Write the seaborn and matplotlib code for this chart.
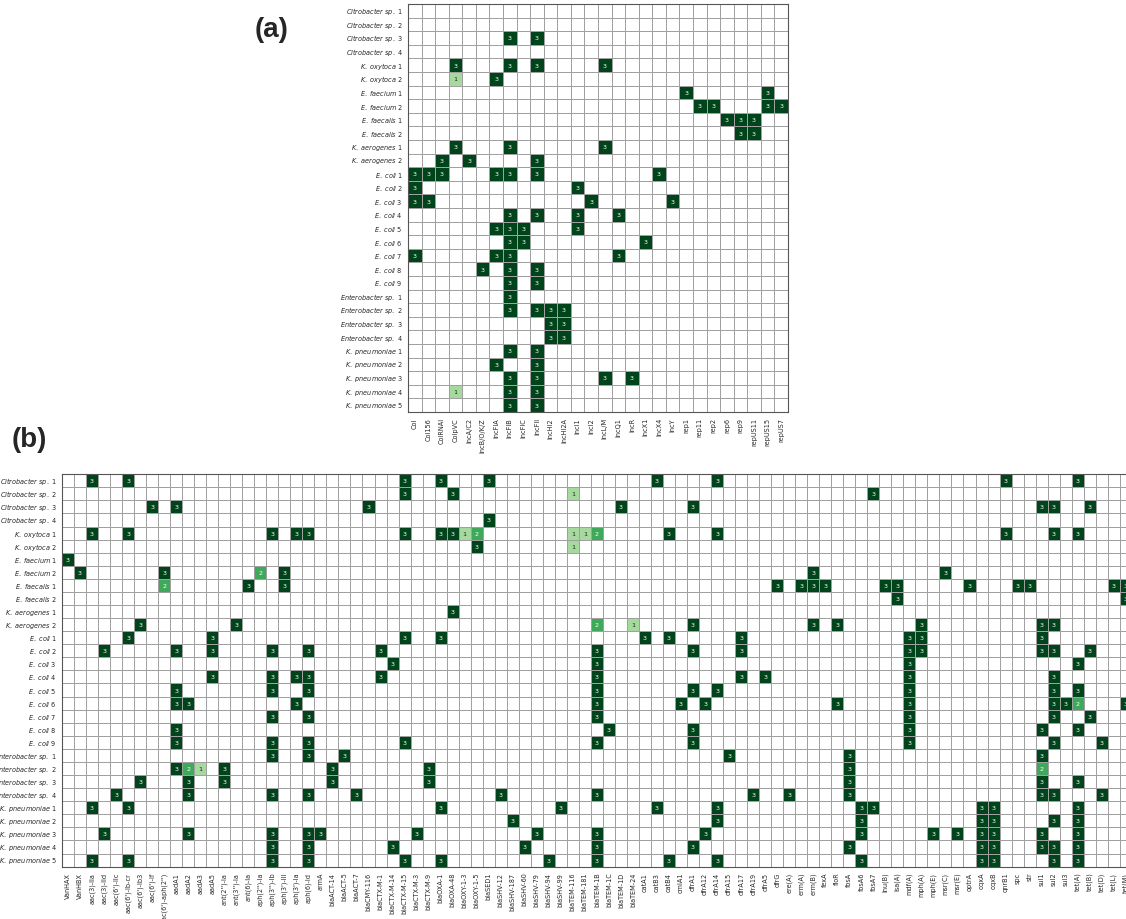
import numpy as np
import pandas as pd
import matplotlib
matplotlib.use("Agg")
import matplotlib.pyplot as plt
from matplotlib.colors import ListedColormap
import seaborn as sns

# ---------------- data ----------------
isolates = [
    "Citrobacter sp. 1", "Citrobacter sp. 2", "Citrobacter sp. 3", "Citrobacter sp. 4",
    "K. oxytoca 1", "K. oxytoca 2", "E. faecium 1", "E. faecium 2",
    "E. faecalis 1", "E. faecalis 2", "K. aerogenes 1", "K. aerogenes 2",
    "E. coli 1", "E. coli 2", "E. coli 3", "E. coli 4", "E. coli 5", "E. coli 6",
    "E. coli 7", "E. coli 8", "E. coli 9",
    "Enterobacter sp. 1", "Enterobacter sp. 2", "Enterobacter sp. 3", "Enterobacter sp. 4",
    "K. pneumoniae 1", "K. pneumoniae 2", "K. pneumoniae 3", "K. pneumoniae 4", "K. pneumoniae 5",
]

replicons = ["Col", "Col156", "ColRNAI", "ColpVC", "IncA/C2", "IncB/O/K/Z", "IncFIA",
             "IncFIB", "IncFIC", "IncFII", "IncHI2", "IncHI2A", "IncI1", "IncI2",
             "IncL/M", "IncQ1", "IncR", "IncX1", "IncX4", "IncY", "rep1", "rep11",
             "rep2", "rep6", "rep9", "repUS11", "repUS15", "repUS7"]

genes = ["VanHAX", "VanHBX", "aac(3)-IIa", "aac(3)-IId", "aac(6')-IIc", "aac(6')-Ib-cr",
         "aac(6')-Ib3", "aac(6')-If", "aac(6')-aph(2'')", "aadA1", "aadA2", "aadA3", "aadA5",
         "ant(2'')-Ia", "ant(3'')-Ia", "ant(6)-Ia", "aph(2'')-Ia", "aph(3'')-Ib", "aph(3')-III",
         "aph(3')-Ia", "aph(6)-Id", "armA", "blaACT-14", "blaACT-5", "blaACT-7", "blaCMY-116",
         "blaCTX-M-1", "blaCTX-M-14", "blaCTX-M-15", "blaCTX-M-3", "blaCTX-M-9", "blaOXA-1",
         "blaOXA-48", "blaOXY-1-3", "blaOXY-1-5", "blaSED1", "blaSHV-12", "blaSHV-187",
         "blaSHV-60", "blaSHV-79", "blaSHV-94", "blaSHV-99", "blaTEM-116", "blaTEM-181",
         "blaTEM-1B", "blaTEM-1C", "blaTEM-1D", "blaTEM-24", "catA1", "catB3", "catB4",
         "cmlA1", "dfrA1", "dfrA12", "dfrA14", "dfrA15", "dfrA17", "dfrA19", "dfrA5", "dfrG",
         "ere(A)", "erm(A)", "erm(B)", "fexA", "floR", "fosA", "fosA6", "fosA7", "lnu(B)",
         "lsa(A)", "mdf(A)", "mph(A)", "mph(E)", "msr(C)", "msr(E)", "optrA", "oqxA", "oqxB",
         "qnrB1", "spc", "str", "sul1", "sul2", "sul3", "tet(A)", "tet(B)", "tet(D)", "tet(L)",
         "tet(M)"]

# panel (a): replicon hits per isolate (value 3 unless given)
replicon_hits = {
    "Citrobacter sp. 3": {"IncFIB": 3, "IncFII": 3},
    "K. oxytoca 1": {"ColpVC": 3, "IncFIB": 3, "IncFII": 3, "IncL/M": 3},
    "K. oxytoca 2": {"ColpVC": 1, "IncFIA": 3},
    "E. faecium 1": {"rep1": 3, "repUS15": 3},
    "E. faecium 2": {"rep11": 3, "rep2": 3, "repUS15": 3, "repUS7": 3},
    "E. faecalis 1": {"rep6": 3, "rep9": 3, "repUS11": 3},
    "E. faecalis 2": {"rep9": 3, "repUS11": 3},
    "K. aerogenes 1": {"ColpVC": 3, "IncFIB": 3, "IncL/M": 3},
    "K. aerogenes 2": {"ColRNAI": 3, "IncA/C2": 3, "IncFII": 3},
    "E. coli 1": {"Col": 3, "Col156": 3, "ColRNAI": 3, "IncFIA": 3, "IncFIB": 3, "IncFII": 3, "IncX4": 3},
    "E. coli 2": {"Col": 3, "IncI1": 3},
    "E. coli 3": {"Col": 3, "Col156": 3, "IncI2": 3, "IncY": 3},
    "E. coli 4": {"IncFIB": 3, "IncFII": 3, "IncI1": 3, "IncQ1": 3},
    "E. coli 5": {"IncFIA": 3, "IncFIB": 3, "IncFIC": 3, "IncI1": 3},
    "E. coli 6": {"IncFIB": 3, "IncFIC": 3, "IncX1": 3},
    "E. coli 7": {"Col": 3, "IncFIA": 3, "IncFIB": 3, "IncQ1": 3},
    "E. coli 8": {"IncB/O/K/Z": 3, "IncFIB": 3, "IncFII": 3},
    "E. coli 9": {"IncFIB": 3, "IncFII": 3},
    "Enterobacter sp. 1": {"IncFIB": 3},
    "Enterobacter sp. 2": {"IncFIB": 3, "IncFII": 3, "IncHI2": 3, "IncHI2A": 3},
    "Enterobacter sp. 3": {"IncHI2": 3, "IncHI2A": 3},
    "Enterobacter sp. 4": {"IncHI2": 3, "IncHI2A": 3},
    "K. pneumoniae 1": {"IncFIB": 3, "IncFII": 3},
    "K. pneumoniae 2": {"IncFIA": 3, "IncFII": 3},
    "K. pneumoniae 3": {"IncFIB": 3, "IncFII": 3, "IncL/M": 3, "IncR": 3},
    "K. pneumoniae 4": {"ColpVC": 1, "IncFIB": 3, "IncFII": 3},
    "K. pneumoniae 5": {"IncFIB": 3, "IncFII": 3},
}

# panel (b): resistance gene hits per isolate
gene_hits = {
    "Citrobacter sp. 1": {"aac(3)-IIa": 3, "aac(6')-Ib-cr": 3, "blaCTX-M-15": 3, "blaOXA-1": 3,
                          "blaSED1": 3, "catB3": 3, "dfrA14": 3, "qnrB1": 3, "tet(A)": 3},
    "Citrobacter sp. 2": {"blaCTX-M-15": 3, "blaOXA-48": 3, "blaTEM-116": 1, "fosA7": 3},
    "Citrobacter sp. 3": {"aac(6')-If": 3, "aadA1": 3, "blaCMY-116": 3, "blaTEM-1D": 3,
                          "dfrA1": 3, "sul1": 3, "sul2": 3, "tet(B)": 3},
    "Citrobacter sp. 4": {"blaSED1": 3},
    "K. oxytoca 1": {"aac(3)-IIa": 3, "aac(6')-Ib-cr": 3, "aph(3'')-Ib": 3, "aph(3')-Ia": 3,
                     "aph(6)-Id": 3, "blaCTX-M-15": 3, "blaOXA-1": 3, "blaOXA-48": 3,
                     "blaOXY-1-3": 1, "blaOXY-1-5": 2, "blaTEM-116": 1, "blaTEM-181": 1,
                     "blaTEM-1B": 2, "catB4": 3, "dfrA14": 3, "qnrB1": 3, "sul2": 3, "tet(A)": 3},
    "K. oxytoca 2": {"blaOXY-1-5": 3, "blaTEM-116": 1},
    "E. faecium 1": {"VanHAX": 3},
    "E. faecium 2": {"VanHBX": 3, "aac(6')-aph(2'')": 3, "aph(2'')-Ia": 2, "aph(3')-III": 3,
                     "erm(B)": 3, "msr(C)": 3},
    "E. faecalis 1": {"aac(6')-aph(2'')": 2, "ant(6)-Ia": 3, "aph(3')-III": 3, "dfrG": 3,
                      "erm(A)": 3, "erm(B)": 3, "fexA": 3, "lnu(B)": 3, "lsa(A)": 3,
                      "optrA": 3, "spc": 3, "str": 3, "tet(L)": 3, "tet(M)": 3},
    "E. faecalis 2": {"lsa(A)": 3, "tet(M)": 3},
    "K. aerogenes 1": {"blaOXA-48": 3},
    "K. aerogenes 2": {"aac(6')-Ib3": 3, "ant(3'')-Ia": 3, "blaTEM-1B": 2, "blaTEM-24": 1,
                       "dfrA1": 3, "erm(B)": 3, "floR": 3, "mph(A)": 3, "sul1": 3, "sul2": 3},
    "E. coli 1": {"aac(6')-Ib-cr": 3, "aadA5": 3, "blaCTX-M-15": 3, "blaOXA-1": 3, "catA1": 3,
                  "catB4": 3, "dfrA17": 3, "mdf(A)": 3, "mph(A)": 3, "sul1": 3},
    "E. coli 2": {"aac(3)-IId": 3, "aadA1": 3, "aadA5": 3, "aph(3'')-Ib": 3, "aph(6)-Id": 3,
                  "blaCTX-M-1": 3, "blaTEM-1B": 3, "dfrA1": 3, "dfrA17": 3, "mdf(A)": 3,
                  "mph(A)": 3, "sul1": 3, "sul2": 3, "tet(B)": 3},
    "E. coli 3": {"blaCTX-M-14": 3, "blaTEM-1B": 3, "mdf(A)": 3, "tet(A)": 3},
    "E. coli 4": {"aadA5": 3, "aph(3'')-Ib": 3, "aph(3')-Ia": 3, "aph(6)-Id": 3, "blaCTX-M-1": 3,
                  "blaTEM-1B": 3, "dfrA17": 3, "dfrA5": 3, "mdf(A)": 3, "sul2": 3},
    "E. coli 5": {"aadA1": 3, "aph(3'')-Ib": 3, "aph(6)-Id": 3, "blaTEM-1B": 3, "dfrA1": 3,
                  "dfrA14": 3, "mdf(A)": 3, "sul2": 3, "tet(A)": 3},
    "E. coli 6": {"aadA1": 3, "aadA2": 3, "aph(3')-Ia": 3, "blaTEM-1B": 3, "cmlA1": 3,
                  "dfrA12": 3, "floR": 3, "mdf(A)": 3, "sul2": 3, "sul3": 3, "tet(A)": 2,
                  "tet(M)": 3},
    "E. coli 7": {"aph(3'')-Ib": 3, "aph(6)-Id": 3, "blaTEM-1B": 3, "mdf(A)": 3, "sul2": 3,
                  "tet(B)": 3},
    "E. coli 8": {"aadA1": 3, "blaTEM-1C": 3, "dfrA1": 3, "mdf(A)": 3, "sul1": 3, "tet(A)": 3},
    "E. coli 9": {"aadA1": 3, "aph(3'')-Ib": 3, "aph(6)-Id": 3, "blaCTX-M-15": 3,
                  "blaTEM-1B": 3, "dfrA1": 3, "mdf(A)": 3, "sul2": 3, "tet(D)": 3},
    "Enterobacter sp. 1": {"aph(3'')-Ib": 3, "aph(6)-Id": 3, "blaACT-5": 3, "dfrA15": 3,
                           "fosA": 3, "sul1": 3},
    "Enterobacter sp. 2": {"aadA1": 3, "aadA2": 2, "aadA3": 1, "ant(2'')-Ia": 3,
                           "blaACT-14": 3, "blaCTX-M-9": 3, "fosA": 3, "sul1": 2},
    "Enterobacter sp. 3": {"aac(6')-Ib3": 3, "aadA2": 3, "ant(2'')-Ia": 3, "blaACT-14": 3,
                           "blaCTX-M-9": 3, "fosA": 3, "sul1": 3, "tet(A)": 3},
    "Enterobacter sp. 4": {"aac(6')-IIc": 3, "aadA2": 3, "aph(3'')-Ib": 3, "aph(6)-Id": 3,
                           "blaACT-7": 3, "blaSHV-12": 3, "blaTEM-1B": 3, "dfrA19": 3,
                           "ere(A)": 3, "fosA": 3, "sul1": 3, "sul2": 3, "tet(D)": 3},
    "K. pneumoniae 1": {"aac(3)-IIa": 3, "aac(6')-Ib-cr": 3, "blaOXA-1": 3, "blaSHV-99": 3,
                        "catB3": 3, "dfrA14": 3, "fosA6": 3, "fosA7": 3, "oqxA": 3,
                        "oqxB": 3, "tet(A)": 3},
    "K. pneumoniae 2": {"blaSHV-187": 3, "dfrA14": 3, "fosA6": 3, "oqxA": 3, "oqxB": 3,
                        "sul2": 3, "tet(A)": 3},
    "K. pneumoniae 3": {"aac(3)-IId": 3, "aadA2": 3, "aph(3'')-Ib": 3, "aph(6)-Id": 3,
                        "armA": 3, "blaCTX-M-3": 3, "blaSHV-79": 3, "blaTEM-1B": 3,
                        "dfrA12": 3, "fosA6": 3, "mph(E)": 3, "msr(E)": 3, "oqxA": 3,
                        "oqxB": 3, "sul1": 3, "tet(A)": 3},
    "K. pneumoniae 4": {"aph(3'')-Ib": 3, "aph(6)-Id": 3, "blaCTX-M-14": 3, "blaSHV-60": 3,
                        "blaTEM-1B": 3, "dfrA1": 3, "fosA": 3, "oqxA": 3, "oqxB": 3,
                        "sul1": 3, "sul2": 3, "tet(A)": 3},
    "K. pneumoniae 5": {"aac(3)-IIa": 3, "aac(6')-Ib-cr": 3, "aph(3'')-Ib": 3, "aph(6)-Id": 3,
                        "blaCTX-M-15": 3, "blaOXA-1": 3, "blaSHV-94": 3, "blaTEM-1B": 3,
                        "catB4": 3, "dfrA14": 3, "fosA6": 3, "oqxA": 3, "oqxB": 3,
                        "sul2": 3, "tet(A)": 3},
}

level_colors = ["#ffffff", "#a5d99e", "#3fa95b", "#00441b"]

# ---------------- helpers ----------------
def build_matrix(hits, columns):
    df = pd.DataFrame(0, index=isolates, columns=columns)
    for iso, d in hits.items():
        for col, v in d.items():
            df.loc[iso, col] = v
    return df


def italic_label(name):
    species, num = name.rsplit(" ", 1)
    return r"$\it{" + species.replace(" ", r"\ ") + "}$ " + num


ylabels = [italic_label(n) for n in isolates]
cmap = ListedColormap(level_colors)

sns.set_style("white")
plt.rcParams["font.family"] = ["DejaVu Sans"]
plt.rcParams["mathtext.fontset"] = "dejavusans"

W, H = 1126, 920
fig = plt.figure(figsize=(W / 100, H / 100), dpi=100)


def draw(df, rect, xlabels):
    ax = fig.add_axes(rect)
    annot = df.apply(lambda c: c.map(lambda v: str(v) if v else "")).values
    sns.heatmap(df, ax=ax, cmap=cmap, vmin=-0.5, vmax=3.5, cbar=False,
                linewidths=0.6, linecolor="#a0a0a0",
                annot=annot, fmt="", annot_kws={"fontsize": 4.6},
                xticklabels=xlabels, yticklabels=ylabels)
    ax.set_xlabel("")
    ax.set_ylabel("")
    ax.tick_params(axis="both", length=2.5, width=0.6, pad=1.2, labelsize=4.7, color="#333333")
    plt.setp(ax.get_xticklabels(), rotation=90, ha="center", va="top")
    plt.setp(ax.get_yticklabels(), rotation=0, va="center")
    for sp in ax.spines.values():
        sp.set_visible(True)
        sp.set_color("#555555")
        sp.set_linewidth(0.8)
    return ax


# panel (a)
df_a = build_matrix(replicon_hits, replicons)
left_a, top_a = 408, 5
cw_a, rh_a = 13.57, 13.6
draw(df_a, [left_a / W, 1 - (top_a + 30 * rh_a) / H, len(replicons) * cw_a / W, 30 * rh_a / H], replicons)

# panel (b)
df_b = build_matrix(gene_hits, genes)
left_b, top_b = 62, 475.2
cw_b, rh_b = 12.02, 13.08
draw(df_b, [left_b / W, 1 - (top_b + 30 * rh_b) / H, len(genes) * cw_b / W, 30 * rh_b / H], genes)

fig.text(272 / W, 1 - 30 / H, "(a)", ha="center", va="center", fontsize=20,
         fontweight="bold", family="Liberation Sans")
fig.text(29 / W, 1 - 440 / H, "(b)", ha="center", va="center", fontsize=20,
         fontweight="bold", family="Liberation Sans")

fig.savefig("out.png", dpi=100)
